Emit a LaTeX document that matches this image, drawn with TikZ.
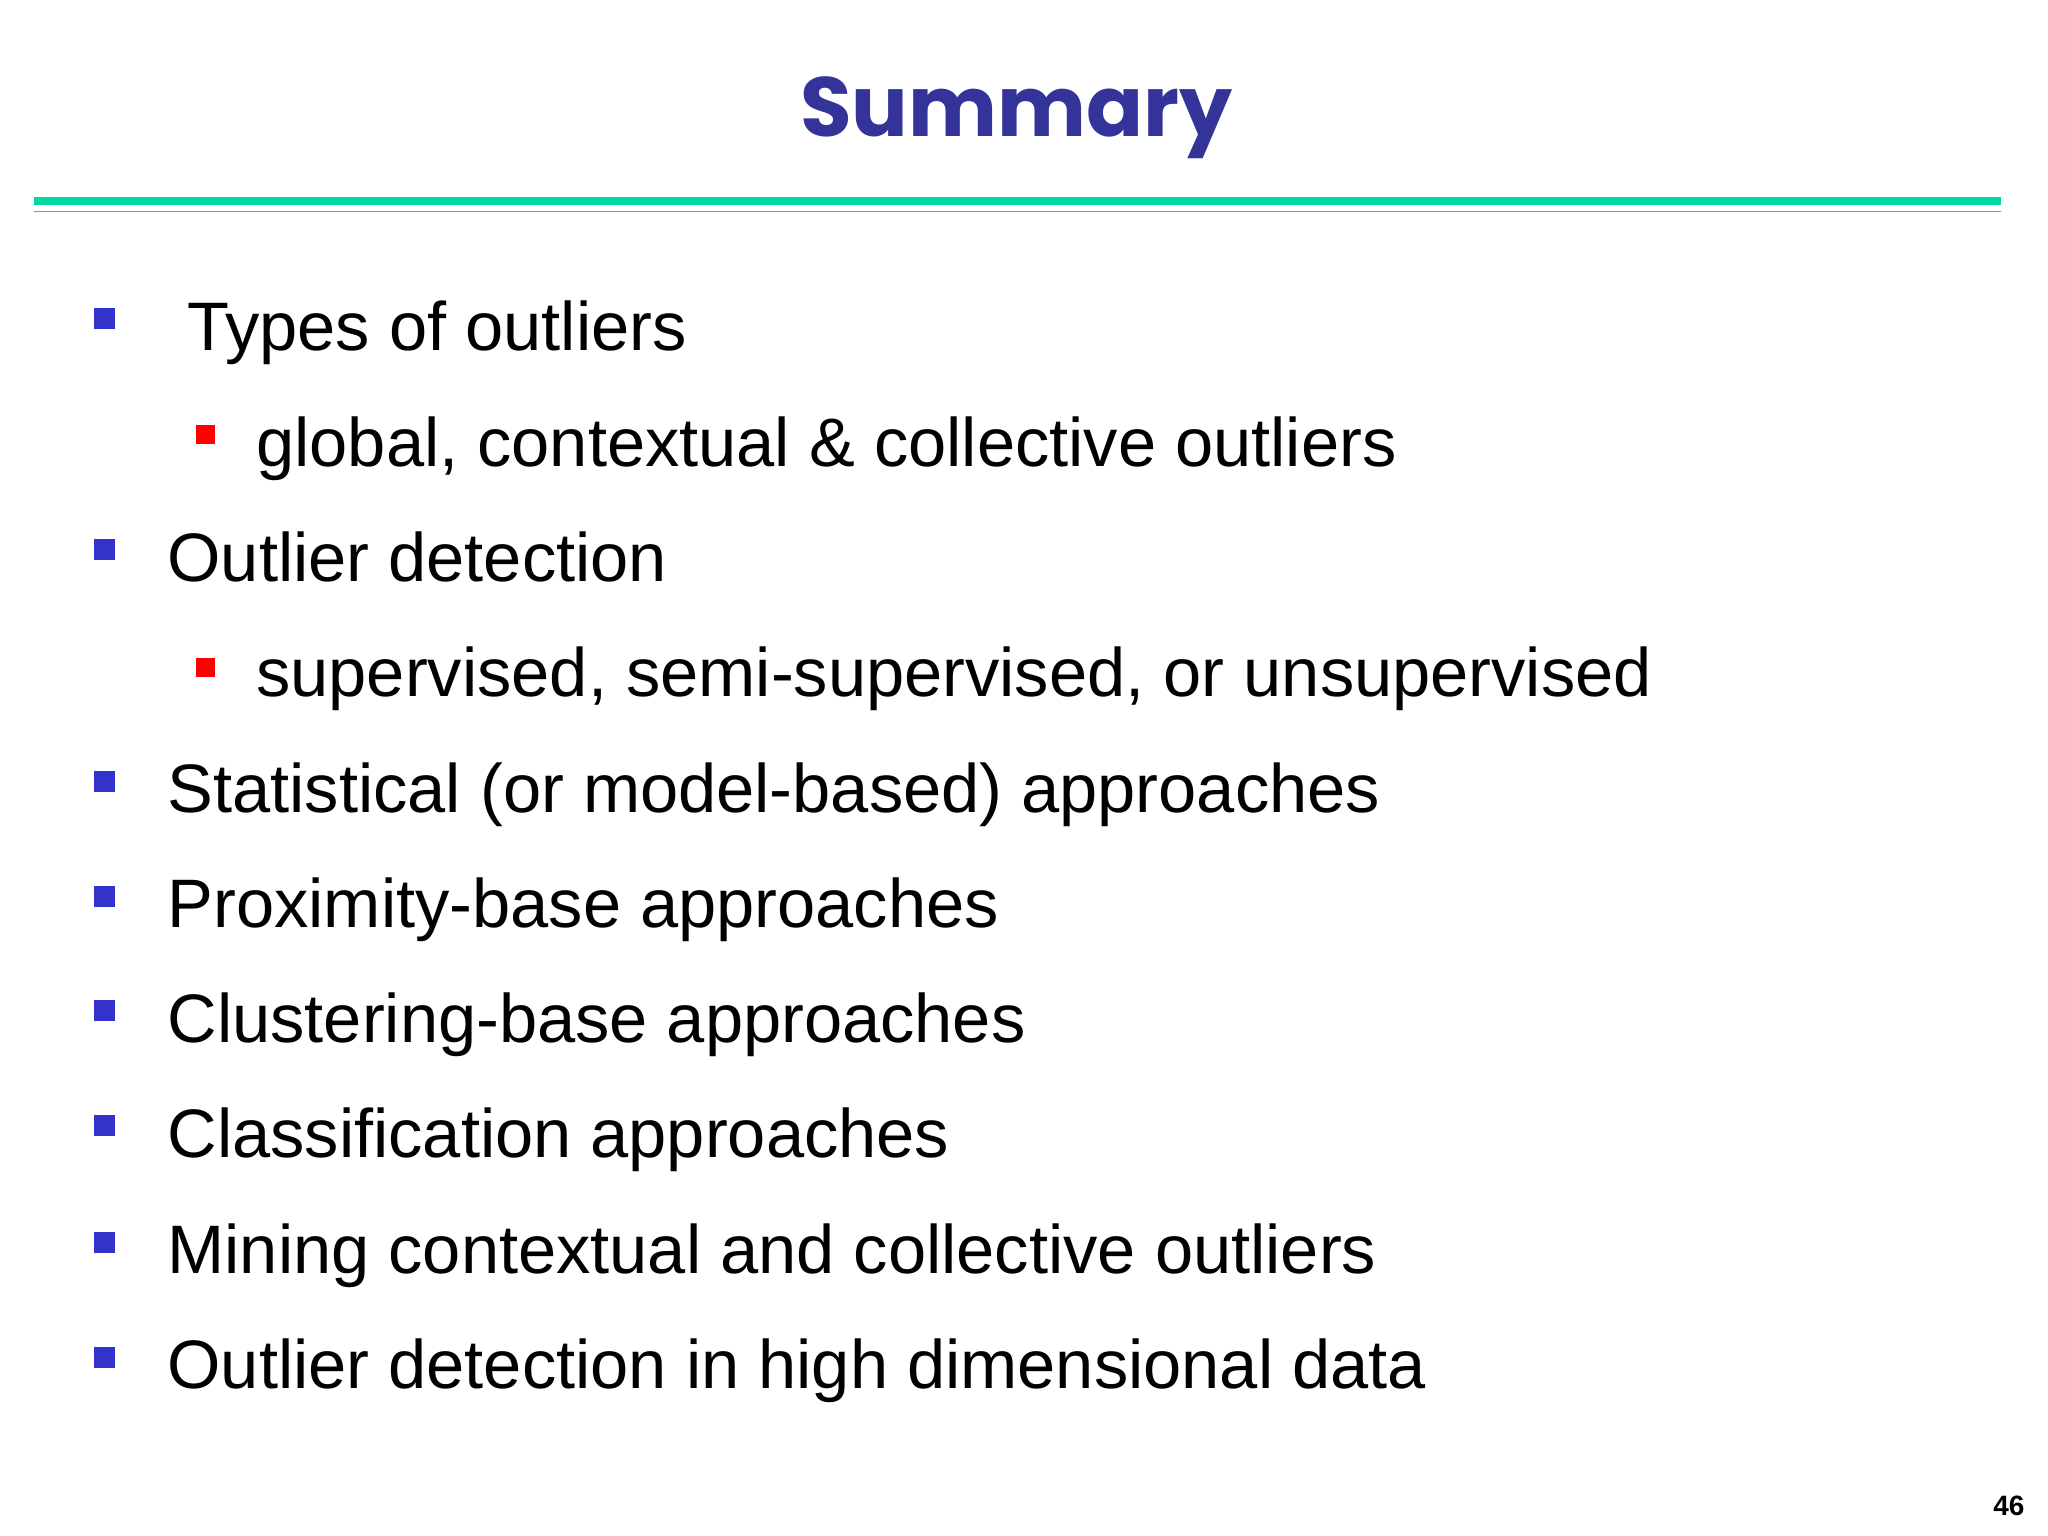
\documentclass[tikz,border=0pt]{standalone}
\usepackage{fontspec}
\setmainfont{Liberation Sans}
\newfontfamily\titlefont{Poppins}
\definecolor{tblue}{RGB}{51,51,153}
\definecolor{bblue}{RGB}{51,51,204}
\definecolor{teal}{RGB}{0,216,160}
\begin{document}
\begin{tikzpicture}[x=0.653pt,y=-0.653pt,
  item/.style={anchor=base west,inner sep=0,font=\fontsize{34.3}{40}\selectfont},
  bb/.style={fill=bblue,minimum size=10.5pt,inner sep=0,draw=none},
  rb/.style={fill=red,minimum size=9.5pt,inner sep=0,draw=none}]
\useasboundingbox[fill=white] (0,0) rectangle (1568,1176);
\node[font=\titlefont\bfseries\fontsize{42}{46}\selectfont,text=tblue] (title) at (778,90) {Summary};
\draw[teal,line width=4pt] (26,154) -- (1532,154);
\draw[teal,line width=0.8pt] (26,162) -- (1532,162);
\foreach \y/\t/\x [count=\i] in {250/Types of outliers/143,427/Outlier detection/128,604/Statistical (or model-based) approaches/128,692/Proximity-base approaches/128,780/Clustering-base approaches/128,868/Classification approaches/128,957/Mining contextual and collective outliers/128,1045/Outlier detection in high dimensional data/128}{
  \node[bb] (b\i) at (80,\y-6) {};
  \node[item] (t\i) at (\x,\y+18) {\t};
}
\node[rb] (r1) at (157,333) {};
\node[item] (s1) at (196,357) {global, contextual \& collective outliers};
\node[rb] (r2) at (157,511) {};
\node[item] (s2) at (196,533) {supervised, semi-supervised, or unsupervised};
\node[font=\bfseries\fontsize{14}{16}\selectfont] (pg) at (1538,1153) {46};
\end{tikzpicture}
\end{document}
